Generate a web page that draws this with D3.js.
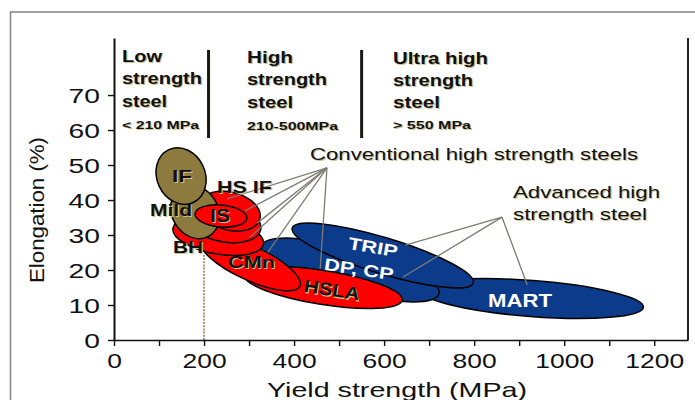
<!DOCTYPE html>
<html>
<head>
<meta charset="utf-8">
<script src="https://cdn.jsdelivr.net/npm/d3@7/dist/d3.min.js"></script>
<style>
  html, body { margin: 0; padding: 0; background: #fff; }
  svg { display: block; font-family: "Liberation Sans", Arial, sans-serif; }
</style>
</head>
<body>
<svg id="chart" width="695" height="400"></svg>
<script>
// ---------------- DATA ----------------
// Steel grades drawn as ellipses: major axis from (yield0, elong0) to (yield1, elong1),
// half thickness in elongation %. Order = drawing order.
const grades    = ["MART", "DP, CP", "TRIP", "HSLA", "CMn", "BH", "Conventional", "HS IF", "Mild", "IF", "IS"];
const family    = ["ahss", "ahss", "ahss", "conv", "conv", "conv", "conv", "conv", "low", "low", "conv"];
const yield0    = [680, 327, 396, 289, 192, 131, 168, 191, 149, 122, 180];
const elong0    = [14.3, 26.8, 32.0, 18.6, 28.6, 32.0, 35.2, 39.1, 43.5, 54.4, 36.1];
const yield1    = [1176, 722, 798, 640, 413, 332, 326, 324, 211, 176, 295];
const elong1    = [9.4, 13.2, 16.3, 11.4, 15.4, 27.4, 31.6, 34.6, 29.7, 39.3, 34.8];
const halfWidth = [5.14, 6.29, 5.14, 4.86, 4.86, 5.14, 5.43, 5.43, 6.6, 6.9, 3.14];

// Axis ticks
const xTicks = [0, 100, 200, 300, 400, 500, 600, 700, 800, 900, 1000, 1100, 1200];
const xLabelTicks = [0, 200, 400, 600, 800, 1000, 1200];
const yTicks = [0, 10, 20, 30, 40, 50, 60, 70];

// Strength class boundaries (MPa)
const classBounds = [210, 550];

// Callouts: apex point and target points (MPa, %)
const convApex = [473, 49.2];
const convTargets = [[251, 40.3], [291, 36.9], [318, 33.4], [302, 29.4], [342, 25.1], [458, 20.3]];
const ahssApex = [862, 35.1];
const ahssTargets = [[647, 27.1], [642, 18.0], [918, 15.7]];

// 200 MPa reference line up to this elongation
const refLine = [200, 24.3];

// ---------------- CHART ----------------
const svg = d3.select("#chart");
const x = d3.scaleLinear().domain([0, 1275]).range([114, 688]);
const y = d3.scaleLinear().domain([0, 86.3]).range([340, 38]);

const colors = { low: "#8c7a3e", conv: "#ff0000", ahss: "#0b3b8a" };
const shadowCol = "#cbc391";

// outer frame
svg.append("rect").attr("x", 10.5).attr("y", 12).attr("width", 720).attr("height", 420)
  .attr("fill", "none").attr("stroke", "#8a8a8a").attr("stroke-width", 1.6);

function label(txt, px, py, o) {
  o = o || {};
  const g = svg.append("g");
  const tf = o.rotate ? `rotate(${o.rotate},${px},${py})` : null;
  const mk = (dx, dy, fill) => {
    const t = g.append("text").attr("x", px + dx).attr("y", py + dy)
      .attr("font-size", o.size || 17).attr("font-weight", o.weight || "normal")
      .attr("text-anchor", o.anchor || "start").attr("fill", fill).text(txt);
    if (o.len) t.attr("textLength", o.len).attr("lengthAdjust", "spacingAndGlyphs");
    if (tf) t.attr("transform", tf);
    return t;
  };
  if (o.shadow !== false) mk(1.2, 1.2, shadowCol);
  mk(0, 0, o.fill || "#111");
}

// 200 MPa reference line (dotted)
svg.append("line")
  .attr("x1", x(refLine[0])).attr("x2", x(refLine[0]))
  .attr("y1", y(0)).attr("y2", y(refLine[1]))
  .attr("stroke", "#a39d76").attr("stroke-width", 2.2).attr("stroke-dasharray", "2,1.2");

// ellipses
grades.forEach((name, i) => {
  const p0 = [x(yield0[i]), y(elong0[i])];
  const p1 = [x(yield1[i]), y(elong1[i])];
  const cx = (p0[0] + p1[0]) / 2, cy = (p0[1] + p1[1]) / 2;
  const a = Math.hypot(p1[0] - p0[0], p1[1] - p0[1]) / 2;
  const b = y(0) - y(halfWidth[i]);
  const ang = Math.atan2(p1[1] - p0[1], p1[0] - p0[0]) * 180 / Math.PI;
  svg.append("ellipse")
    .attr("cx", cx).attr("cy", cy).attr("rx", a).attr("ry", b)
    .attr("transform", `rotate(${ang},${cx},${cy})`)
    .attr("fill", colors[family[i]])
    .attr("stroke", "#000").attr("stroke-width", 1.5);
});

// callout lines
const drawCallout = (apex, targets) => {
  targets.forEach(t => {
    svg.append("line")
      .attr("x1", x(apex[0])).attr("y1", y(apex[1]))
      .attr("x2", x(t[0])).attr("y2", y(t[1]))
      .attr("stroke", "#7c7c72").attr("stroke-width", 1.3);
  });
};
drawCallout(convApex, convTargets);
drawCallout(ahssApex, ahssTargets);

// axes
const xAxis = svg.append("g").attr("transform", `translate(0,${y(0)})`)
  .call(d3.axisBottom(x).tickValues(xTicks).tickSize(6).tickSizeOuter(0)
    .tickFormat(d => xLabelTicks.includes(d) ? String(d) : ""));
xAxis.select(".domain").attr("stroke", "#111").attr("stroke-width", 1.6);
xAxis.selectAll(".tick line").attr("stroke", "#111").attr("stroke-width", 1.4);
xAxis.selectAll(".tick text").attr("font-size", 21).attr("fill", "#111")
  .attr("font-family", "Liberation Sans, Arial, sans-serif")
  .attr("y", 28).attr("dy", 0)
  .each(function () {
    const s = d3.select(this).text();
    if (s) d3.select(this).attr("textLength", s.length * 14.7).attr("lengthAdjust", "spacingAndGlyphs");
  });

const yAxis = svg.append("g").attr("transform", `translate(${x(0)},0)`)
  .call(d3.axisLeft(y).tickValues(yTicks).tickSize(6).tickSizeOuter(0));
yAxis.select(".domain").attr("stroke", "#111").attr("stroke-width", 2);
yAxis.selectAll(".tick line").attr("stroke", "#111").attr("stroke-width", 1.4);
yAxis.selectAll(".tick text").attr("font-size", 20).attr("fill", "#111")
  .attr("font-family", "Liberation Sans, Arial, sans-serif")
  .attr("x", -14).attr("dy", "0.35em")
  .each(function () {
    const s = d3.select(this).text();
    d3.select(this).attr("textLength", s.length * 15.7).attr("lengthAdjust", "spacingAndGlyphs");
  });

// right border
svg.append("line").attr("x1", x(1275)).attr("x2", x(1275)).attr("y1", y(86.3)).attr("y2", y(0))
  .attr("stroke", "#222").attr("stroke-width", 2);

// class boundaries
classBounds.forEach(v => {
  svg.append("line").attr("x1", x(v)).attr("x2", x(v)).attr("y1", 50).attr("y2", 138)
    .attr("stroke", "#1a1a14").attr("stroke-width", 3);
});

// axis titles
svg.append("text").attr("x", 397).attr("y", 397).attr("text-anchor", "middle")
  .attr("font-size", 21).attr("fill", "#111")
  .attr("textLength", 260).attr("lengthAdjust", "spacingAndGlyphs")
  .text("Yield strength (MPa)");
svg.append("text").attr("transform", "translate(44,210) rotate(-90)").attr("text-anchor", "middle")
  .attr("font-size", 20).attr("fill", "#111")
  .attr("textLength", 146).attr("lengthAdjust", "spacingAndGlyphs")
  .text("Elongation (%)");

// class headers
const hb = { size: 17, weight: "bold" };
label("Low", 122, 62, { ...hb, len: 40 });
label("strength", 122, 84, { ...hb, len: 80 });
label("steel", 122, 107, { ...hb, len: 45 });
label("< 210 MPa", 122, 129, { size: 11, weight: "bold", len: 77 });
label("High", 247, 63, { ...hb, len: 46 });
label("strength", 247, 85, { ...hb, len: 80 });
label("steel", 247, 108, { ...hb, len: 46 });
label("210-500MPa", 247, 130, { size: 11, weight: "bold", len: 91 });
label("Ultra high", 393, 64, { ...hb, len: 95 });
label("strength", 393, 86, { ...hb, len: 80 });
label("steel", 393, 108, { ...hb, len: 47 });
label("> 550 MPa", 393, 129, { size: 11, weight: "bold", len: 78 });

// callout titles
label("Conventional high strength steels", 310, 160, { size: 17, len: 328 });
label("Advanced high", 513, 198, { size: 17, len: 147 });
label("strength steel", 513, 220, { size: 17, len: 134 });

// grade labels
const gb = { size: 17, weight: "bold" };
label("IF", 172, 182, { ...gb, len: 20 });
label("HS IF", 217, 193, { ...gb, len: 55 });
label("Mild", 150, 216, { ...gb, len: 42 });
label("IS", 210, 222, { ...gb, size: 18, len: 20 });
label("BH", 173, 253, { ...gb, len: 30 });
label("CMn", 228, 268, { ...gb, len: 47 });
label("HSLA", 331, 296, { ...gb, size: 18, len: 56, anchor: "middle", rotate: 9 });
label("TRIP", 372, 253, { ...gb, len: 50, anchor: "middle", rotate: 10, fill: "#fff", shadow: false });
label("DP, CP", 358, 275, { ...gb, len: 70, anchor: "middle", rotate: 8.5, fill: "#fff", shadow: false });
label("MART", 488, 307, { ...gb, size: 18, len: 64, fill: "#fff", shadow: false });
</script>
</body>
</html>
